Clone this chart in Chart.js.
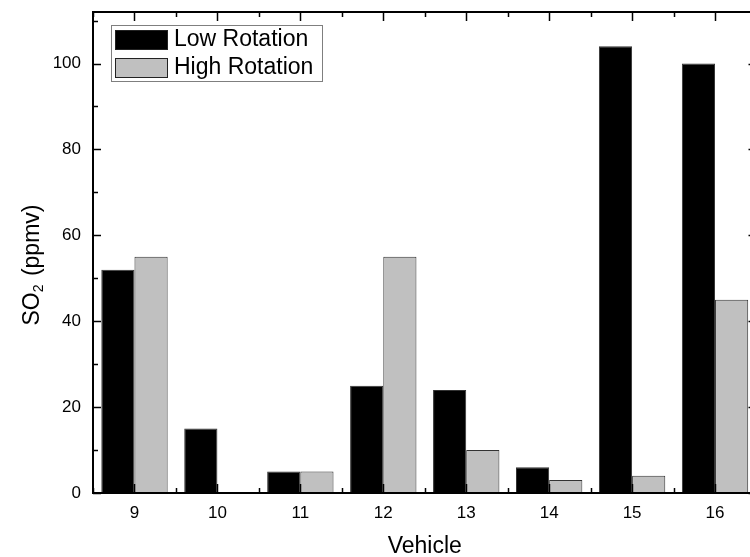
<!DOCTYPE html>
<html>
<head>
<meta charset="utf-8">
<script src="https://cdn.jsdelivr.net/npm/chart.js@4.4.1/dist/chart.umd.min.js"></script>
<style>
  html, body { margin: 0; padding: 0; overflow: hidden; background: #fff; }
</style>
</head>
<body>
<canvas id="chart" width="760" height="557"></canvas>
<script>
const vehicles = ["9", "10", "11", "12", "13", "14", "15", "16"];
const lowRotation = [52, 15, 5, 25, 24, 6, 104, 100];
const highRotation = [55, 0, 5, 55, 10, 3, 4, 45];
const yTicks = [0, 20, 40, 60, 80, 100];

const FONT = "'Liberation Sans', Arial, sans-serif";

function line(ctx, x1, y1, x2, y2) {
  ctx.beginPath();
  ctx.moveTo(x1, y1);
  ctx.lineTo(x2, y2);
  ctx.stroke();
}

// frame with inward ticks on all four sides, like the original plot
const framePlugin = {
  id: "frame",
  afterDatasetsDraw(chart) {
    const { ctx, chartArea: a, scales: { x, y } } = chart;
    ctx.save();
    ctx.strokeStyle = "#000";
    ctx.lineWidth = 1.5;
    for (let v = 0; v <= y.max; v += 10) {
      const py = Math.round(y.getPixelForValue(v)) + 0.5;
      const len = v % 20 === 0 ? 8 : 5;
      line(ctx, a.left, py, a.left + len, py);
      line(ctx, a.right, py, a.right - len, py);
    }
    for (let i = 0; i < vehicles.length; i++) {
      const px = Math.round(x.getPixelForValue(i)) + 0.5;
      line(ctx, px, a.top, px, a.top + 9);
      line(ctx, px, a.bottom, px, a.bottom - 9);
    }
    for (let i = 0; i <= vehicles.length; i++) {
      const px = Math.round(x.getPixelForValue(i - 0.5)) + 0.5;
      line(ctx, px, a.top, px, a.top + 5);
      line(ctx, px, a.bottom, px, a.bottom - 5);
    }
    ctx.lineWidth = 2;
    ctx.strokeRect(a.left, a.top, a.right - a.left, a.bottom - a.top);
    ctx.restore();
  },
  afterDraw(chart) {
    const { ctx, chartArea: a } = chart;
    ctx.save();
    ctx.fillStyle = "#000";

    // x title
    ctx.font = "23px " + FONT;
    ctx.textAlign = "center";
    ctx.textBaseline = "middle";
    ctx.fillText("Vehicle", (a.left + a.right) / 2, 547);

    // y title with subscript
    ctx.translate(39, 265);
    ctx.rotate(-Math.PI / 2);
    ctx.textAlign = "left";
    ctx.textBaseline = "alphabetic";
    const big = "23px " + FONT, small = "14px " + FONT;
    ctx.font = big;
    const w1 = ctx.measureText("SO").width;
    ctx.font = small;
    const w2 = ctx.measureText("2").width;
    ctx.font = big;
    const w3 = ctx.measureText(" (ppmv)").width;
    let sx = -(w1 + w2 + w3 + 2) / 2;
    ctx.fillText("SO", sx, 0);
    sx += w1;
    ctx.font = small;
    ctx.fillText("2", sx, 4);
    sx += w2 + 2;
    ctx.font = big;
    ctx.fillText(" (ppmv)", sx, 0);
    ctx.restore();

    // legend box inside the plot
    const ds = chart.data.datasets;
    ctx.save();
    ctx.fillStyle = "#fff";
    ctx.strokeStyle = "#7f7f7f";
    ctx.lineWidth = 1;
    ctx.fillRect(111.5, 25.5, 211, 56);
    ctx.strokeRect(111.5, 25.5, 211, 56);
    ds.forEach((d, i) => {
      const ty = 30 + i * 28;
      ctx.fillStyle = d.backgroundColor;
      ctx.fillRect(115.5, ty + 0.5, 52, 19);
      ctx.strokeStyle = "#222";
      ctx.strokeRect(115.5, ty + 0.5, 52, 19);
      ctx.fillStyle = "#000";
      ctx.font = "23px " + FONT;
      ctx.textAlign = "left";
      ctx.textBaseline = "middle";
      ctx.fillText(d.label, 174, ty + 10);
    });
    ctx.restore();
  }
};

new Chart(document.getElementById("chart"), {
  type: "bar",
  data: {
    labels: vehicles,
    datasets: [
      {
        label: "Low Rotation",
        data: lowRotation,
        backgroundColor: "#000000",
        borderColor: "#333333",
        borderWidth: 1,
        categoryPercentage: 0.8,
        barPercentage: 1.0
      },
      {
        label: "High Rotation",
        data: highRotation,
        backgroundColor: "#c0c0c0",
        borderColor: "#333333",
        borderWidth: 1,
        categoryPercentage: 0.8,
        barPercentage: 1.0
      }
    ]
  },
  options: {
    responsive: false,
    animation: false,
    layout: { padding: { top: 12, right: 3.5, left: 0, bottom: 0 } },
    plugins: {
      legend: { display: false },
      tooltip: { enabled: false }
    },
    scales: {
      x: {
        grid: { display: false, drawTicks: false },
        border: { display: false },
        ticks: {
          color: "#000",
          font: { family: FONT, size: 17 },
          padding: 10,
          maxRotation: 0
        },
        afterFit(scale) {
          scale.height = 64;
          scale.paddingLeft = 0;
          scale.paddingRight = 0;
        }
      },
      y: {
        min: 0,
        max: 112,
        grid: { display: false, drawTicks: false },
        border: { display: false },
        ticks: {
          color: "#000",
          font: { family: FONT, size: 17 },
          padding: 12
        },
        afterBuildTicks(scale) {
          scale.ticks = yTicks.map(v => ({ value: v }));
        },
        afterFit(scale) {
          scale.width = 93;
          scale.paddingTop = 0;
          scale.paddingBottom = 0;
        }
      }
    }
  },
  plugins: [framePlugin]
});
</script>
</body>
</html>
